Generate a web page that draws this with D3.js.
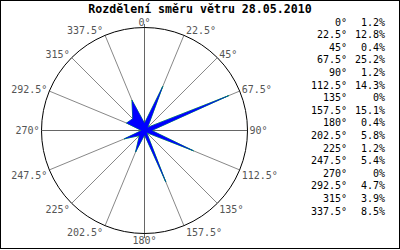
<!DOCTYPE html>
<html>
<head>
<meta charset="utf-8">
<script src="https://cdn.jsdelivr.net/npm/d3@7"></script>
<style>
  body { margin: 0; background: #fff; }
  text { font-family: "DejaVu Sans Mono", "Liberation Mono", monospace; }
</style>
</head>
<body>
<div id="chart"></div>
<script>
// Wind direction distribution (percent of time per direction)
const directions = [0, 22.5, 45, 67.5, 90, 112.5, 135, 157.5, 180, 202.5, 225, 247.5, 270, 292.5, 315, 337.5];
const shares = [1.2, 12.8, 0.4, 25.2, 1.2, 14.3, 0, 15.1, 0.4, 5.8, 1.2, 5.4, 0, 4.7, 3.9, 8.5];
const title = "Rozdělení směru větru 28.05.2010";

const width = 400;
const height = 250;
const cx = 144.5;
const cy = 130.5;
const radius = 103;

const svg = d3
  .select("#chart")
  .append("svg")
  .attr("width", width)
  .attr("height", height);

// Frame
svg
  .append("rect")
  .attr("x", 0.5)
  .attr("y", 0.5)
  .attr("width", width - 1)
  .attr("height", height - 2)
  .attr("fill", "#fff")
  .attr("stroke", "#000");

// Title
svg
  .append("text")
  .attr("x", 200)
  .attr("y", 13)
  .attr("text-anchor", "middle")
  .attr("font-size", 11.6)
  .attr("font-weight", "bold")
  .text(title);

// Scales
const angle = d3
  .scaleLinear()
  .domain([0, 360])
  .range([0, 2 * Math.PI]);

const r = d3.scaleLinear().domain([0, 28.6]).range([3, radius]);

const g = svg.append("g").attr("transform", `translate(${cx},${cy})`);

// Spokes (the vertical axis pokes a little past the circle)
g.selectAll("line.spoke")
  .data(directions)
  .join("line")
  .attr("class", "spoke")
  .attr("x1", 0)
  .attr("y1", 0)
  .attr("x2", (d) => {
    const len = d % 180 === 0 ? radius + 4 : radius;
    return len * Math.sin(angle(d));
  })
  .attr("y2", (d) => {
    const len = d % 180 === 0 ? radius + 4 : radius;
    return -len * Math.cos(angle(d));
  })
  .attr("stroke", (d) => (d % 90 === 0 ? "#666" : "#888"))
  .attr("stroke-width", (d) => (d % 90 === 0 ? 1.4 : 1))
  .attr("shape-rendering", (d) => (d % 90 === 0 ? "crispEdges" : "auto"));

// Outer circle
g.append("circle")
  .attr("r", radius)
  .attr("fill", "none")
  .attr("stroke", "#000")
  .attr("stroke-width", 1);

// Rose polygon
const rose = d3
  .lineRadial()
  .angle((d, i) => angle(directions[i]))
  .radius((d) => r(d))
  .curve(d3.curveLinearClosed);

g.append("path")
  .datum(shares)
  .attr("d", rose)
  .attr("fill", "none")
  .attr("stroke", "#00dd00")
  .attr("stroke-width", 0.9);

g.append("path")
  .datum(shares)
  .attr("d", rose)
  .attr("fill", "#0000ff")
  .attr("stroke", "#0000ff")
  .attr("stroke-width", 0.4);

// Direction labels around the circle
g.selectAll("text.dir")
  .data(directions)
  .join("text")
  .attr("class", "dir")
  .attr("font-size", 10)
  .attr("fill", "#555")
  .attr("text-anchor", (d) => {
    const s = Math.sin(angle(d));
    return Math.abs(s) < 0.01 ? "middle" : s > 0 ? "start" : "end";
  })
  .attr("x", (d) => {
    const s = Math.sin(angle(d));
    const px = radius * s;
    return Math.abs(s) < 0.01 ? px : px + (s > 0 ? 2 : -2);
  })
  .attr("y", (d) => {
    const c = Math.cos(angle(d));
    const py = -radius * c;
    const off = c > 0.01 ? -5 * c : c < -0.01 ? 4 + 3 * Math.abs(c) : 0;
    return py + off;
  })
  .attr("dy", "0.35em")
  .text((d) => `${d}°`);

// Legend
const legend = svg.append("g");
const rowY = d3
  .scaleLinear()
  .domain([0, directions.length - 1])
  .range([22, 211]);

legend
  .selectAll("text.deg")
  .data(directions)
  .join("text")
  .attr("class", "deg")
  .attr("x", 347)
  .attr("y", (d, i) => rowY(i))
  .attr("dy", "0.35em")
  .attr("text-anchor", "end")
  .attr("font-size", 10)
  .text((d) => `${d}°`);

legend
  .selectAll("text.pct")
  .data(shares)
  .join("text")
  .attr("class", "pct")
  .attr("x", 385)
  .attr("y", (d, i) => rowY(i))
  .attr("dy", "0.35em")
  .attr("text-anchor", "end")
  .attr("font-size", 10)
  .text((d) => `${d}%`);
</script>
</body>
</html>
